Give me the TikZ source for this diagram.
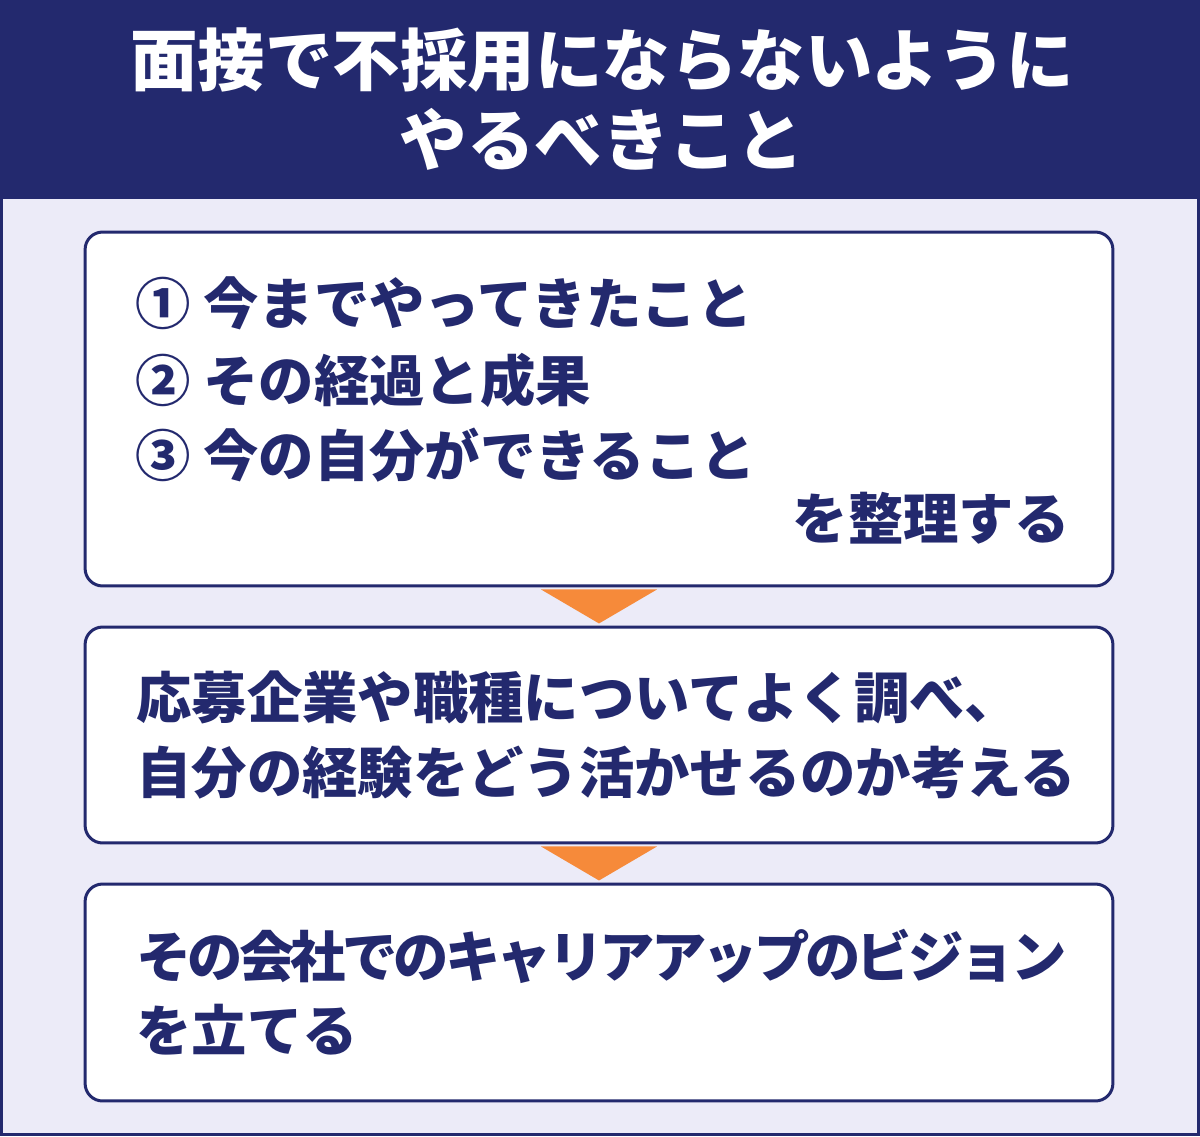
\documentclass[tikz,border=0pt]{standalone}
\usepackage{fontspec}
\usetikzlibrary{calc}
\newfontfamily\jp{Noto Sans CJK JP}
\newfontfamily\jptight{Noto Sans CJK JP}[LetterSpace=-7]

\definecolor{dark-navy}{RGB}{35, 41, 110}
\definecolor{light-lavender}{RGB}{236, 235, 248}
\definecolor{soft-orange}{RGB}{246, 138, 58}

\begin{document}
\begin{tikzpicture}[
        x=0.02cm, y=-0.02cm,
        stepbox/.style={shape=rectangle, draw=dark-navy, fill=white, line width=0.06cm,
            rounded corners=0.35cm, minimum width=20.56cm, inner sep=0pt},
        title/.style={text=white, inner sep=0pt, font=\jp\bfseries\fontsize{38.4}{45}\selectfont},
        line/.style={text=dark-navy, inner sep=0pt, anchor=base west, font=\jp\bfseries\fontsize{31.5}{40}\selectfont},
        tight/.style={font=\jptight\bfseries\fontsize{31.5}{40}\selectfont},
        pointer/.style={fill=soft-orange},
    ]
        \useasboundingbox (0,0) rectangle (1200,1136);
        \fill[dark-navy] (0,0) rectangle (1200,1136);
        \fill[light-lavender] (3,199) rectangle (1197,1133);

        % header
        \node[title, anchor=base] (title1) at (602,85) {面接で不採用にならないように};
        \node[title, anchor=base] (title2) at (602,165) {やるべきこと};

        % boxes
        \node[stepbox, minimum height=7.08cm] (review) at (599,409) {};
        \node[stepbox, minimum height=4.32cm] (research) at (599,735) {};
        \node[stepbox, minimum height=4.34cm] (vision) at (599,992.5) {};

        % pointers between boxes
        \fill[pointer] ($(review.south)+(-58,2)$) -- ($(review.south)+(58,2)$) -- ($(review.south)+(0,36)$) -- cycle;
        \fill[pointer] ($(research.south)+(-58,2)$) -- ($(research.south)+(58,2)$) -- ($(research.south)+(0,36)$) -- cycle;

        % texts
        \node[line] (item1) at (135,324) {① 今までやってきたこと};
        \node[line] (item2) at (135,401) {② その経過と成果};
        \node[line] (item3) at (135,476) {③ 今の自分ができること};
        \node[line, anchor=base east] (sort) at (1070,539) {を整理する};

        \node[line] (study1) at (136,718) {応募企業や職種についてよく調べ、};
        \node[line] (study2) at (136,793) {自分の経験をどう活かせるのか考える};

        \node[line, tight] (plan1) at (136,977) {その会社でのキャリアアップのビジョン};
        \node[line] (plan2) at (136,1051) {を立てる};
\end{tikzpicture}
\end{document}
